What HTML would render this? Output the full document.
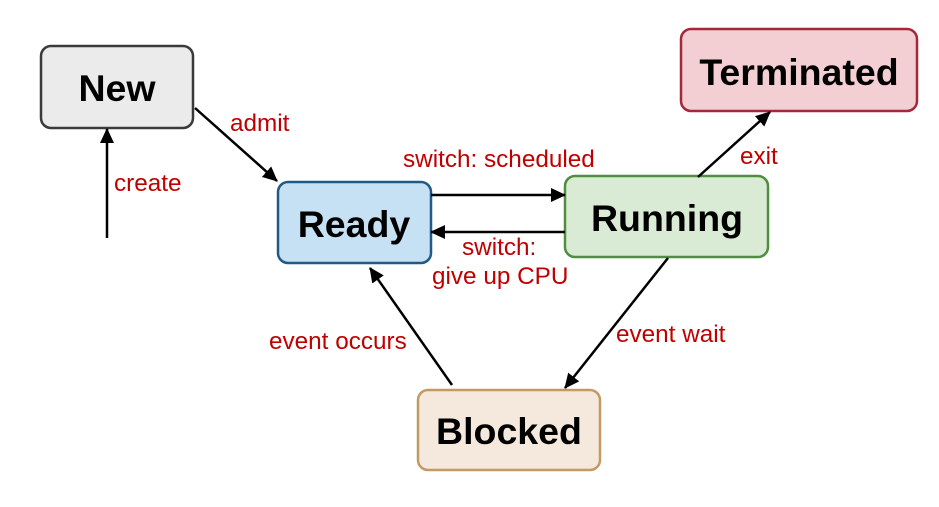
<!DOCTYPE html>
<html><head><style>
body{margin:0;background:#fff;width:939px;height:502px;overflow:hidden}
</style></head><body>
<svg width="939" height="502" xmlns="http://www.w3.org/2000/svg" font-family="Liberation Sans, sans-serif">
<defs><marker id="a" markerWidth="16" markerHeight="14" refX="14" refY="7" orient="auto" markerUnits="userSpaceOnUse"><path d="M0,0 L15,7 L0,14 z" fill="#000"/></marker></defs>
<rect x="41" y="46" width="152" height="82" rx="10" fill="#ebebeb" stroke="#3a3a3a" stroke-width="2.5"/>
<rect x="278" y="182" width="153" height="81" rx="10" fill="#c6e1f3" stroke="#1f5b85" stroke-width="2.5"/>
<rect x="565" y="176" width="203" height="81" rx="10" fill="#d9ebd4" stroke="#4f8d3f" stroke-width="2.5"/>
<rect x="681" y="29" width="236" height="82" rx="10" fill="#f3cfd4" stroke="#a3283a" stroke-width="2.5"/>
<rect x="418" y="390" width="182" height="80" rx="10" fill="#f5e8dc" stroke="#c49a64" stroke-width="2.5"/>
<g font-weight="bold" font-size="37.5" text-anchor="middle" fill="#000">
<text x="117" y="101">New</text>
<text x="354" y="237">Ready</text>
<text x="667" y="231">Running</text>
<text x="799" y="85">Terminated</text>
<text x="509" y="444">Blocked</text>
</g>
<g stroke="#000" stroke-width="2.5" marker-end="url(#a)">
<line x1="107" y1="238" x2="107" y2="129"/>
<line x1="195" y1="108" x2="277" y2="181"/>
<line x1="431" y1="195" x2="565" y2="195"/>
<line x1="565" y1="232" x2="431" y2="232"/>
<line x1="698" y1="177" x2="770" y2="112"/>
<line x1="668" y1="258" x2="565" y2="388"/>
<line x1="452" y1="385" x2="370" y2="268"/>
</g>
<g fill="#c00000" font-size="24.3">
<text x="114" y="191">create</text>
<text x="230" y="131">admit</text>
<text x="403" y="167">switch: scheduled</text>
<text x="462" y="255">switch:</text>
<text x="432" y="284">give up CPU</text>
<text x="740" y="164">exit</text>
<text x="616" y="342">event wait</text>
<text x="269" y="349">event occurs</text>
</g>
</svg>
</body></html>
